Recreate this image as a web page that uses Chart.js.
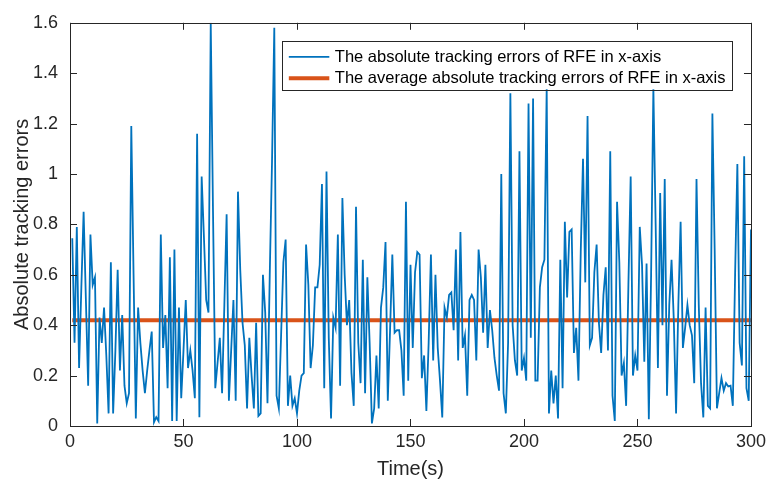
<!DOCTYPE html>
<html>
<head>
<meta charset="utf-8">
<script src="https://cdn.jsdelivr.net/npm/chart.js@4.4.1/dist/chart.umd.min.js"></script>
<style>
html,body{margin:0;padding:0;background:#fff;}
canvas{display:block;}
</style>
</head>
<body>
<canvas id="c" width="771" height="489"></canvas>
<script>
// ---- data ----
const timeSeconds = [
1,2,3,4,5,6,7,8,9,10,11,12,13,14,15,16,17,18,19,20,
21,22,23,24,25,26,27,28,29,30,31,32,33,34,35,36,37,38,39,40,
41,42,43,44,45,46,47,48,49,50,51,52,53,54,55,56,57,58,59,60,
61,62,63,64,65,66,67,68,69,70,71,72,73,74,75,76,77,78,79,80,
81,82,83,84,85,86,87,88,89,90,91,92,93,94,95,96,97,98,99,100,
101,102,103,104,105,106,107,108,109,110,111,112,113,114,115,116,117,118,119,120,
121,122,123,124,125,126,127,128,129,130,131,132,133,134,135,136,137,138,139,140,
141,142,143,144,145,146,147,148,149,150,151,152,153,154,155,156,157,158,159,160,
161,162,163,164,165,166,167,168,169,170,171,172,173,174,175,176,177,178,179,180,
181,182,183,184,185,186,187,188,189,190,191,192,193,194,195,196,197,198,199,200,
201,202,203,204,205,206,207,208,209,210,211,212,213,214,215,216,217,218,219,220,
221,222,223,224,225,226,227,228,229,230,231,232,233,234,235,236,237,238,239,240,
241,242,243,244,245,246,247,248,249,250,251,252,253,254,255,256,257,258,259,260,
261,262,263,264,265,266,267,268,269,270,271,272,273,274,275,276,277,278,279,280,
281,282,283,284,285,286,287,288,289,290,291,292,293,294,295,296,297,298,299,300
];

const absErrorsX = [
0.745,0.33,0.79,0.23,0.55,0.85,0.50,0.16,0.76,0.56,
0.59,0.01,0.43,0.33,0.47,0.28,0.05,0.65,0.05,0.30,
0.62,0.22,0.44,0.16,0.09,0.13,1.19,0.60,0.03,0.47,
0.33,0.22,0.13,0.22,0.30,0.375,0.015,0.035,0.02,0.76,
0.31,0.44,0.15,0.67,0.02,0.70,0.02,0.47,0.11,0.30,
0.50,0.23,0.30,0.22,0.11,1.16,0.035,0.99,0.75,0.50,
0.45,1.60,0.85,0.15,0.25,0.35,0.13,0.48,0.84,0.10,
0.30,0.50,0.10,0.93,0.62,0.41,0.32,0.07,0.35,0.20,
0.07,0.41,0.04,0.05,0.60,0.45,0.09,0.60,1.05,1.58,
0.12,0.07,0.36,0.65,0.74,0.08,0.20,0.08,0.11,0.05,
0.14,0.20,0.21,0.72,0.56,0.23,0.32,0.55,0.55,0.64,
0.96,0.15,1.01,0.35,0.03,0.43,0.39,0.76,0.16,0.905,
0.60,0.40,0.50,0.21,0.08,0.87,0.33,0.17,0.66,0.13,
0.59,0.33,0.01,0.07,0.28,0.07,0.47,0.55,0.73,0.10,
0.38,0.68,0.37,0.38,0.38,0.30,0.12,0.89,0.18,0.64,
0.31,0.61,0.69,0.68,0.19,0.28,0.06,0.33,0.68,0.26,
0.60,0.31,0.18,0.034,0.47,0.43,0.52,0.53,0.38,0.70,
0.26,0.77,0.31,0.36,0.12,0.50,0.52,0.50,0.26,0.70,
0.59,0.37,0.64,0.31,0.46,0.38,0.27,0.20,0.14,1.00,
0.13,0.05,0.33,1.32,0.40,0.26,0.20,1.09,0.22,0.27,
0.18,1.28,0.35,1.30,0.18,0.18,0.55,0.63,0.66,1.34,
0.05,0.22,0.09,0.20,0.03,0.66,0.15,0.81,0.51,0.77,
0.78,0.29,0.39,0.18,0.69,1.06,0.57,1.23,0.32,0.35,
0.61,0.72,0.41,0.29,0.52,0.63,0.30,1.09,0.12,0.02,
0.89,0.65,0.20,0.25,0.08,0.56,0.99,0.20,0.28,0.22,
0.79,0.64,0.255,0.645,0.027,0.60,1.34,0.80,0.23,0.925,
0.40,0.98,0.12,0.48,0.66,0.42,0.05,0.48,0.81,0.31,
0.39,0.48,0.40,0.36,0.17,0.98,0.48,0.17,0.034,0.47,
0.08,0.07,1.24,0.70,0.07,0.13,0.19,0.14,0.17,0.157,
0.16,0.08,0.60,1.04,0.33,0.24,1.07,0.15,0.10,0.78
];

const avgAbsErrorX = 0.42;           // level of the red average line
const avgLineTimes = [1, 300];        // span of the average line

const xTickValues = [0, 50, 100, 150, 200, 250, 300];
const yTickValues = [0, 0.2, 0.4, 0.6, 0.8, 1, 1.2, 1.4, 1.6];
const yTickLabels = ['0', '0.2', '0.4', '0.6', '0.8', '1', '1.2', '1.4', '1.6'];

const seriesLabels = [
  'The absolute tracking errors of RFE in x-axis',
  'The average absolute tracking errors of RFE in x-axis'
];
const xTitle = 'Time(s)';
const yTitle = 'Absolute tracking errors';

// ---- build chart ----
const BLUE = '#0072BD', ORANGE = '#D95319', AXIS = '#262626';
const FONT = "'Liberation Sans', Arial, Helvetica, sans-serif";

const errPoints = timeSeconds.map((t, i) => ({x: t, y: absErrorsX[i]}));
const avgPoints = avgLineTimes.map(t => ({x: t, y: avgAbsErrorX}));

const frameTicksPlugin = {
  id: 'frameTicks',
  afterDatasetsDraw(chart) {
    const {ctx, chartArea: a, scales: {x, y}} = chart;
    ctx.save();
    ctx.strokeStyle = AXIS;
    ctx.lineWidth = 1;
    const tl = 7;
    ctx.beginPath();
    x.ticks.forEach(t => {
      const px = Math.round(x.getPixelForValue(t.value)) + 0.5;
      ctx.moveTo(px, a.bottom); ctx.lineTo(px, a.bottom - tl);
      ctx.moveTo(px, a.top); ctx.lineTo(px, a.top + tl);
    });
    y.ticks.forEach(t => {
      const py = Math.round(y.getPixelForValue(t.value)) + 0.5;
      ctx.moveTo(a.left, py); ctx.lineTo(a.left + tl, py);
      ctx.moveTo(a.right, py); ctx.lineTo(a.right - tl, py);
    });
    ctx.stroke();
    ctx.strokeRect(Math.round(a.left) + 0.5, Math.round(a.top) + 0.5,
                   Math.round(a.right - a.left), Math.round(a.bottom - a.top));
    ctx.restore();
  }
};

const boxLegendPlugin = {
  id: 'boxLegend',
  afterDraw(chart) {
    const {ctx, chartArea: a} = chart;
    ctx.save();
    ctx.font = '16.5px ' + FONT;
    const ds = chart.data.datasets;
    let maxW = 0;
    ds.forEach(d => { maxW = Math.max(maxW, ctx.measureText(d.label).width); });
    const right = a.right - 19;
    const top = a.top + 18;
    const width = maxW + 59;
    const left = right - width;
    const rowH = 21.5;
    const height = 48.5;
    ctx.fillStyle = '#fff';
    ctx.fillRect(left, top, width, height);
    ctx.strokeStyle = AXIS;
    ctx.lineWidth = 1;
    ctx.strokeRect(Math.round(left) + 0.5, Math.round(top) + 0.5, Math.round(width), Math.round(height));
    ds.forEach((d, i) => {
      const cy = top + 16 + i * rowH;
      ctx.strokeStyle = d.borderColor;
      ctx.lineWidth = d.borderWidth;
      ctx.beginPath();
      ctx.moveTo(left + 6.5, cy); ctx.lineTo(left + 47, cy);
      ctx.stroke();
      ctx.fillStyle = '#000';
      ctx.textBaseline = 'middle';
      ctx.textAlign = 'left';
      ctx.fillText(d.label, left + 52.5, cy + 0.5);
    });
    ctx.restore();
  }
};

new Chart(document.getElementById('c'), {
  type: 'line',
  data: {
    datasets: [
      {label: seriesLabels[0], data: errPoints, borderColor: BLUE, backgroundColor: BLUE,
       borderWidth: 1.8, pointRadius: 0, tension: 0, fill: false},
      {label: seriesLabels[1], data: avgPoints, borderColor: ORANGE, backgroundColor: ORANGE,
       borderWidth: 4, pointRadius: 0, tension: 0, fill: false}
    ]
  },
  options: {
    responsive: false,
    animation: false,
    devicePixelRatio: 1,
    layout: {padding: {top: 16, right: 16.5, left: 0, bottom: 0}},
    plugins: {legend: {display: false}, tooltip: {enabled: false}},
    scales: {
      x: {
        type: 'linear', min: 0, max: 300,
        afterBuildTicks: s => { s.ticks = xTickValues.map(v => ({value: v})); },
        afterFit: s => { s.height = 63; },
        grid: {display: false, drawTicks: false},
        border: {display: false},
        ticks: {color: AXIS, font: {family: FONT, size: 18}, padding: 5, maxRotation: 0,
                callback: v => String(v)},
        title: {display: true, text: xTitle, color: AXIS, font: {family: FONT, size: 20},
                padding: {top: 0, bottom: 8}}
      },
      y: {
        type: 'linear', min: 0, max: 1.6,
        afterBuildTicks: s => { s.ticks = yTickValues.map(v => ({value: v})); },
        afterFit: s => { s.width = 70; },
        grid: {display: false, drawTicks: false},
        border: {display: false},
        ticks: {color: AXIS, font: {family: FONT, size: 18}, padding: 12,
                callback: (v, i) => yTickLabels[i]},
        title: {display: true, text: yTitle, color: AXIS, font: {family: FONT, size: 20},
                padding: {top: 10, bottom: 0}}
      }
    }
  },
  plugins: [frameTicksPlugin, boxLegendPlugin]
});
</script>
</body>
</html>
